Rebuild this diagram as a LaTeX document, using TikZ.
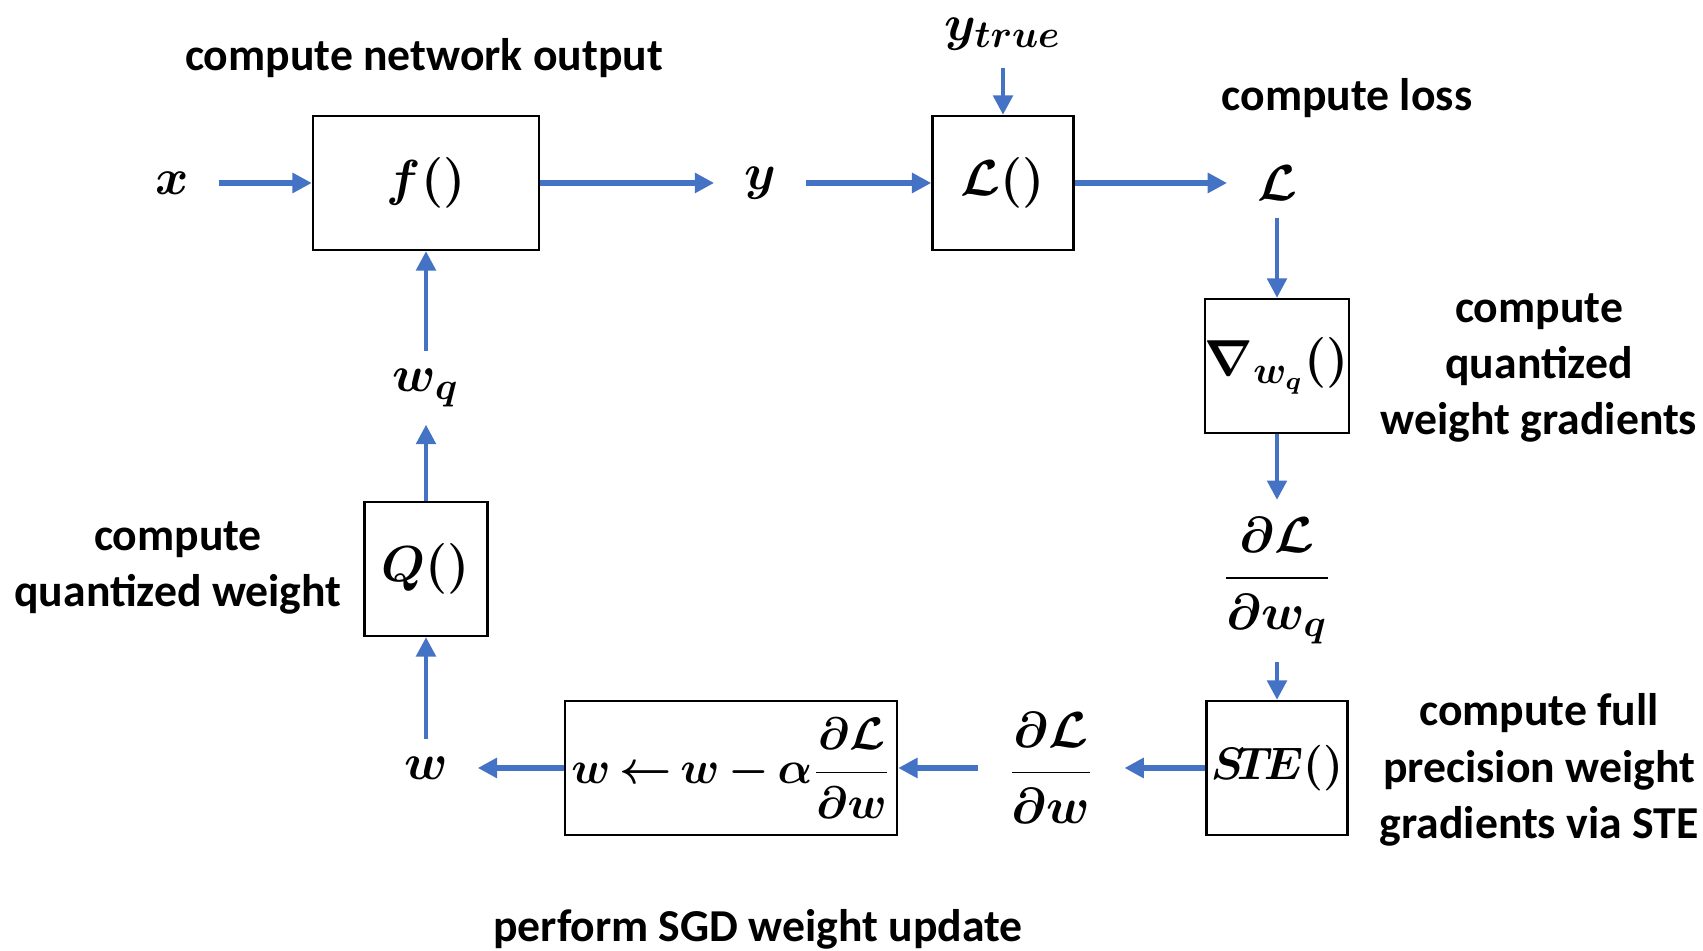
\documentclass[tikz,border=0pt]{standalone}
\usepackage[no-math]{fontspec}
\setmainfont{Carlito}
\usepackage{xcolor}
\usepackage{tikz}
\definecolor{arrowblue}{RGB}{68,114,196}
\usetikzlibrary{arrows.meta}

\begin{document}
\begin{tikzpicture}[
    block/.style={draw=black, line width=0.7pt, minimum width=#1, minimum height=1.34cm, inner sep=0pt, font=\fontsize{15}{18}\selectfont\boldmath},
    var/.style={inner sep=0pt, outer xsep=0.3cm, outer ysep=0.18cm, font=\fontsize{15}{18}\selectfont\boldmath},
    note/.style={font=\fontsize{13}{16}\selectfont\bfseries, align=center},
    flow/.style={draw=arrowblue, line width=1.7pt, -{Triangle[length=5.5pt,width=5.5pt]}},
    feed/.style={draw=arrowblue, line width=1.2pt, -{Triangle[length=5.5pt,width=5.5pt]}}
]
    \useasboundingbox (0,0) rectangle (17.03,9.51);

    % Forward pass: network output and loss
    \node[note] (outlab) at (4.24,8.93) {compute network output};
    \node[var] (x) at (1.72,7.68) {$x$};
    \node[block=2.26cm] (f) at (4.26,7.68) {$f()$};
    \node[var] (y) at (7.60,7.68) {$y$};
    \node[block=1.41cm] (loss) at (10.03,7.68) {$\mathcal{L}()$};
    \node[var] (ytrue) at (10.03,9.17) {$y_{true}$};
    \node[var] (L) at (12.77,7.68) {$\mathcal{L}$};
    \node[note] (losslab) at (13.47,8.53) {compute loss};

    % Backward pass: gradients
    \node[block=1.41cm] (grad) at (12.77,5.85) {$\nabla_{w_q}()$};
    \node[note] (gradlab) at (15.39,5.83) {compute\\quantized\\weight gradients};
    \node[var] (dLdwq) at (12.77,3.70) {$\displaystyle\frac{\partial\mathcal{L}}{\partial w_q}$};
    \node[block=1.41cm] (ste) at (12.77,1.83) {\scalebox{0.9}{$S\!T\!E()$}};
    \node[note] (stelab) at (15.39,1.81) {compute full\\precision weight\\gradients via STE};

    % Weight update and quantization
    \node[var] (dLdw) at (10.51,1.83) {$\displaystyle\frac{\partial\mathcal{L}}{\partial w}$};
    \node[block=3.32cm] (sgd) at (7.31,1.83) {\scalebox{0.9}{$w\,{\leftarrow}\,w\,{-}\,\alpha\displaystyle\frac{\partial\mathcal{L}}{\partial w}$}};
    \node[note] (sgdlab) at (7.58,0.22) {perform SGD weight update};
    \node[var] (w) at (4.26,1.83) {$w$};
    \node[block=1.23cm] (q) at (4.26,3.82) {$Q()$};
    \node[note] (qlab) at (1.78,3.83) {compute\\quantized weight};
    \node[var] (wq) at (4.26,5.63) {$w_q$};

    % Connectors
    \draw[flow] (x) -- (f);
    \draw[flow] (f) -- (y);
    \draw[flow] (y) -- (loss);
    \draw[flow] (loss) -- (L);
    \draw[feed] (ytrue) -- (loss);
    \draw[feed] (L) -- (grad);
    \draw[feed] (grad) -- (dLdwq);
    \draw[feed] (dLdwq) -- (ste);
    \draw[flow] (ste) -- (dLdw);
    \draw[flow] (dLdw) -- (sgd);
    \draw[flow] (sgd) -- (w);
    \draw[feed] (w) -- (q);
    \draw[feed] (q) -- (wq);
    \draw[feed] (wq) -- (f);
\end{tikzpicture}
\end{document}
